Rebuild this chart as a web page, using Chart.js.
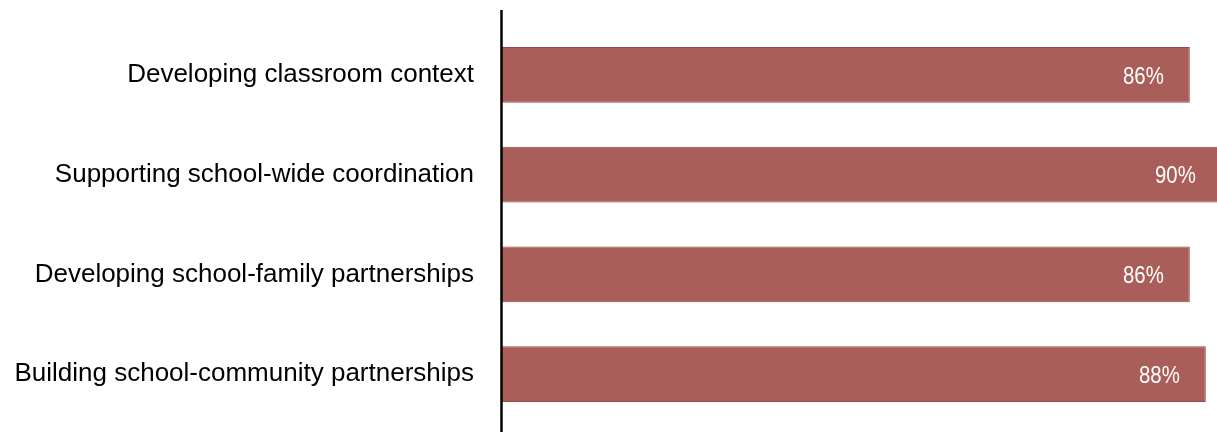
<!DOCTYPE html>
<html>
<head>
<meta charset="utf-8">
<script src="https://cdn.jsdelivr.net/npm/chart.js@4"></script>
<style>
  html, body { margin: 0; padding: 0; background: #fff; }
  #wrap { width: 1217px; height: 432px; }
</style>
</head>
<body>
<div id="wrap"><canvas id="bars"></canvas></div>
<script>
const categories = [
  'Developing classroom context',
  'Supporting school-wide coordination',
  'Developing school-family partnerships',
  'Building school-community partnerships'
];
const percents = [86, 90, 86, 88];

// axis line runs past the bars, from near the top to the bottom edge
const axisLine = {
  id: 'axisLine',
  afterDatasetsDraw(chart) {
    const ctx = chart.ctx;
    const x = chart.chartArea.left - 0.5;
    ctx.save();
    ctx.strokeStyle = '#000';
    ctx.lineWidth = 2.5;
    ctx.beginPath();
    ctx.moveTo(x, 10);
    ctx.lineTo(x, chart.height);
    ctx.stroke();
    ctx.restore();
  }
};

// white percent labels near the end of each bar (slightly condensed like the original)
const valueLabels = {
  id: 'valueLabels',
  afterDatasetsDraw(chart) {
    const ctx = chart.ctx;
    const meta = chart.getDatasetMeta(0);
    const sx = 0.85;
    ctx.save();
    ctx.fillStyle = '#fff';
    ctx.font = '24px "Liberation Sans", Arial, sans-serif';
    ctx.textAlign = 'right';
    ctx.textBaseline = 'middle';
    ctx.scale(sx, 1);
    meta.data.forEach((bar, i) => {
      ctx.fillText(percents[i] + '%', (bar.x - 26) / sx, bar.y + 2);
    });
    ctx.restore();
  }
};

new Chart(document.getElementById('bars'), {
  type: 'bar',
  data: {
    labels: categories,
    datasets: [{
      data: percents,
      backgroundColor: '#a95e59',
      borderColor: '#964a45',
      borderWidth: 1,
      borderSkipped: 'left',
      barPercentage: 0.56,
      categoryPercentage: 1
    }]
  },
  options: {
    indexAxis: 'y',
    responsive: true,
    maintainAspectRatio: false,
    animation: false,
    layout: { padding: { top: 25, bottom: 8, left: 0, right: 0 } },
    plugins: {
      legend: { display: false },
      tooltip: { enabled: false }
    },
    scales: {
      x: {
        display: false,
        min: 0,
        max: 89.4
      },
      y: {
        grid: { display: false, drawTicks: false },
        border: { display: false },
        ticks: {
          color: '#000',
          padding: 28,
          font: { family: '"Liberation Sans", Arial, sans-serif', size: 26 }
        },
        afterFit(scale) {
          scale.width = 502;
          scale.paddingTop = 0;
          scale.paddingBottom = 0;
        }
      }
    }
  },
  plugins: [axisLine, valueLabels]
});
</script>
</body>
</html>
